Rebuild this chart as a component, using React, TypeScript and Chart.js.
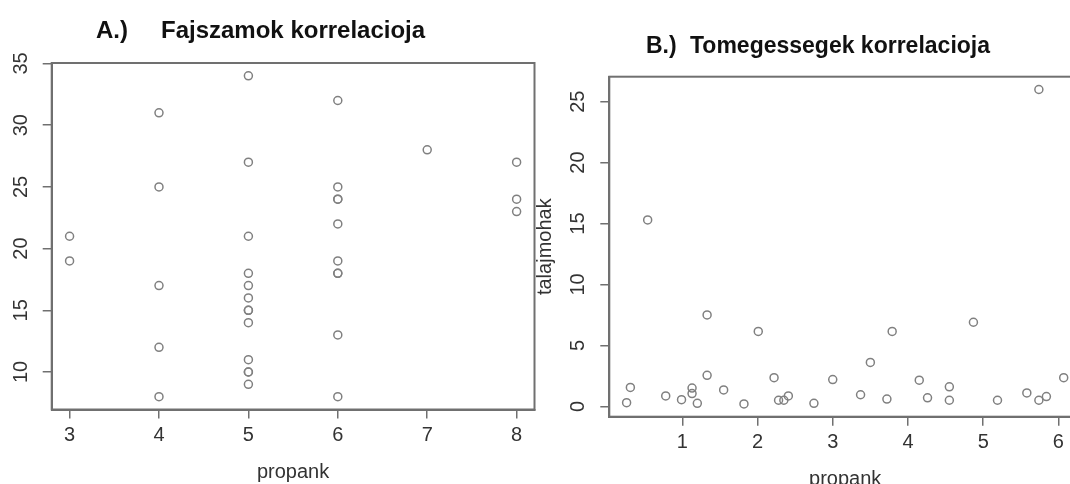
import React, { useEffect, useRef } from "react";
import { Chart, registerables } from "chart.js";

Chart.register(...registerables);

// ---------- Panel A: Fajszamok korrelacioja ----------
const propankA = [3, 3, 4, 4, 4, 4, 4, 5, 5, 5, 5, 5, 5, 5, 5, 5, 5, 5, 5, 5, 6, 6, 6, 6, 6, 6, 6, 6, 6, 6, 7, 8, 8, 8];
const fajszamA = [21, 19, 31, 25, 17, 12, 8, 34, 27, 21, 18, 17, 16, 15, 15, 14, 11, 10, 10, 9, 32, 25, 24, 24, 22, 19, 18, 18, 13, 8, 28, 27, 24, 23];
const xTicksA = [3, 4, 5, 6, 7, 8];
const yTicksA = [10, 15, 20, 25, 30, 35];

// ---------- Panel B: Tomegessegek korrelacioja ----------
const propankB = [0.26, 0.31, 0.54, 0.78, 0.99, 1.13, 1.13, 1.2, 1.33, 1.33, 1.55, 1.82, 2.01, 2.22, 2.28, 2.35, 2.41, 2.75, 3.0, 3.37, 3.5, 3.72, 3.79, 4.15, 4.26, 4.55, 4.55, 4.87, 5.19, 5.58, 5.74, 5.74, 5.84, 6.07];
const talajmohakB = [0.3, 1.55, 15.3, 0.85, 0.55, 1.5, 1.05, 0.25, 7.5, 2.55, 1.35, 0.2, 6.15, 2.35, 0.5, 0.5, 0.85, 0.25, 2.2, 0.95, 3.6, 0.6, 6.15, 2.15, 0.7, 1.6, 0.5, 6.9, 0.5, 1.1, 26.0, 0.5, 0.8, 2.35];
const xTicksB = [1, 2, 3, 4, 5, 6];
const yTicksB = [0, 5, 10, 15, 20, 25];

const FONT = "'Liberation Sans', Arial, Helvetica, sans-serif";
const AXIS = "#707070";
const TEXT = "#333333";
const POINT = "#808080";

const boxPlugin = {
  id: "plotBox",
  afterDraw(chart: any) {
    const { ctx, chartArea } = chart;
    const { left, top, right, bottom } = chartArea;
    ctx.save();
    ctx.strokeStyle = AXIS;
    ctx.lineWidth = 2;
    ctx.strokeRect(left, top, right - left, bottom - top);
    ctx.restore();
  },
};

const titlePlugin = {
  id: "panelTitle",
  afterDraw(chart: any, _args: any, opts: any) {
    const ctx = chart.ctx;
    ctx.save();
    (opts.items || []).forEach((it: any) => {
      ctx.font = `bold ${it.size}px ${FONT}`;
      ctx.fillStyle = "#111111";
      ctx.textBaseline = "alphabetic";
      ctx.textAlign = "left";
      ctx.fillText(it.text, it.x, it.y);
    });
    ctx.restore();
  },
};

function buildConfig(p: any) {
  return {
    type: "scatter",
    data: {
      datasets: [
        {
          data: p.xs.map((x: number, i: number) => ({ x, y: p.ys[i] })),
          pointStyle: "circle",
          pointRadius: 4,
          pointBorderWidth: 1.5,
          pointBorderColor: POINT,
          pointBackgroundColor: "rgba(0,0,0,0)",
          showLine: false,
        },
      ],
    },
    plugins: [boxPlugin, titlePlugin],
    options: {
      responsive: false,
      animation: false,
      events: [],
      layout: { padding: { left: 0, top: p.padTop, right: p.padRight, bottom: 0 } },
      plugins: {
        legend: { display: false },
        tooltip: { enabled: false },
        title: { display: false },
        panelTitle: { items: p.titles },
      },
      scales: {
        x: {
          type: "linear",
          min: p.xMin,
          max: p.xMax,
          afterBuildTicks: (s: any) => {
            s.ticks = p.xTicks.map((v: number) => ({ value: v }));
          },
          afterFit: (s: any) => {
            s.height = p.xH;
          },
          grid: { display: true, drawOnChartArea: false, drawTicks: true, tickLength: 9, color: AXIS, lineWidth: 1.5 },
          border: { display: true, color: AXIS, width: 2 },
          ticks: {
            color: TEXT,
            font: { family: FONT, size: 20 },
            padding: 5,
            maxRotation: 0,
            minRotation: 0,
            autoSkip: false,
            callback: (v: any) => String(v),
          },
          title: {
            display: true,
            text: "propank",
            color: TEXT,
            font: { family: FONT, size: 20 },
            padding: { top: 0, bottom: p.xTitlePad },
          },
        },
        y: {
          type: "linear",
          min: p.yMin,
          max: p.yMax,
          afterBuildTicks: (s: any) => {
            s.ticks = p.yTicks.map((v: number) => ({ value: v }));
          },
          afterFit: (s: any) => {
            s.width = p.yW;
          },
          grid: { display: true, drawOnChartArea: false, drawTicks: true, tickLength: 9, color: AXIS, lineWidth: 1.5 },
          border: { display: true, color: AXIS, width: 2 },
          ticks: {
            color: TEXT,
            font: { family: FONT, size: 20 },
            padding: p.yTickPad,
            minRotation: 90,
            maxRotation: 90,
            crossAlign: "center",
            autoSkip: false,
            callback: (v: any) => String(v),
          },
          title: {
            display: !!p.yTitle,
            text: p.yTitle || "",
            color: TEXT,
            font: { family: FONT, size: 20 },
            padding: { top: 3, bottom: 0 },
          },
        },
      },
    },
  };
}

function Panel(props: { cfg: any; left: number; width: number; height: number }) {
  const ref = useRef<HTMLCanvasElement | null>(null);
  useEffect(() => {
    if (!ref.current) return;
    const chart = new Chart(ref.current, buildConfig(props.cfg) as any);
    return () => chart.destroy();
  }, []);
  return (
    <canvas
      ref={ref}
      width={props.width}
      height={props.height}
      style={{ position: "absolute", left: props.left, top: 0, width: props.width, height: props.height }}
    />
  );
}

const cfgA = {
  xs: propankA,
  ys: fajszamA,
  xTicks: xTicksA,
  yTicks: yTicksA,
  xMin: 2.8,
  xMax: 8.2,
  yMin: 6.96,
  yMax: 35.04,
  padTop: 63,
  padRight: 4.5,
  xH: 74.5,
  yW: 51.7,
  yTickPad: 10,
  xTitlePad: 0,
  yTitle: "",
  titles: [
    { text: "A.)", x: 96, y: 38, size: 24 },
    { text: "Fajszamok korrelacioja", x: 161, y: 38, size: 24 },
  ],
};

const cfgB = {
  xs: propankB,
  ys: talajmohakB,
  xTicks: xTicksB,
  yTicks: yTicksB,
  xMin: 0.03,
  xMax: 6.3,
  yMin: -0.85,
  yMax: 27.05,
  padTop: 76.7,
  padRight: 9,
  xH: 78.3,
  yW: 79.3,
  yTickPad: 11,
  xTitlePad: 4,
  yTitle: "talajmohak",
  titles: [
    { text: "B.)", x: 116, y: 53, size: 23 },
    { text: "Tomegessegek korrelacioja", x: 160, y: 53, size: 23 },
  ],
};

export default function App() {
  return (
    <div
      style={{
        position: "absolute",
        left: 0,
        top: 0,
        width: 1070,
        height: 484,
        overflow: "hidden",
        background: "#ffffff",
      }}
    >
      <Panel cfg={cfgA} left={0} width={540} height={484} />
      <Panel cfg={cfgB} left={530} width={560} height={495} />
    </div>
  );
}
